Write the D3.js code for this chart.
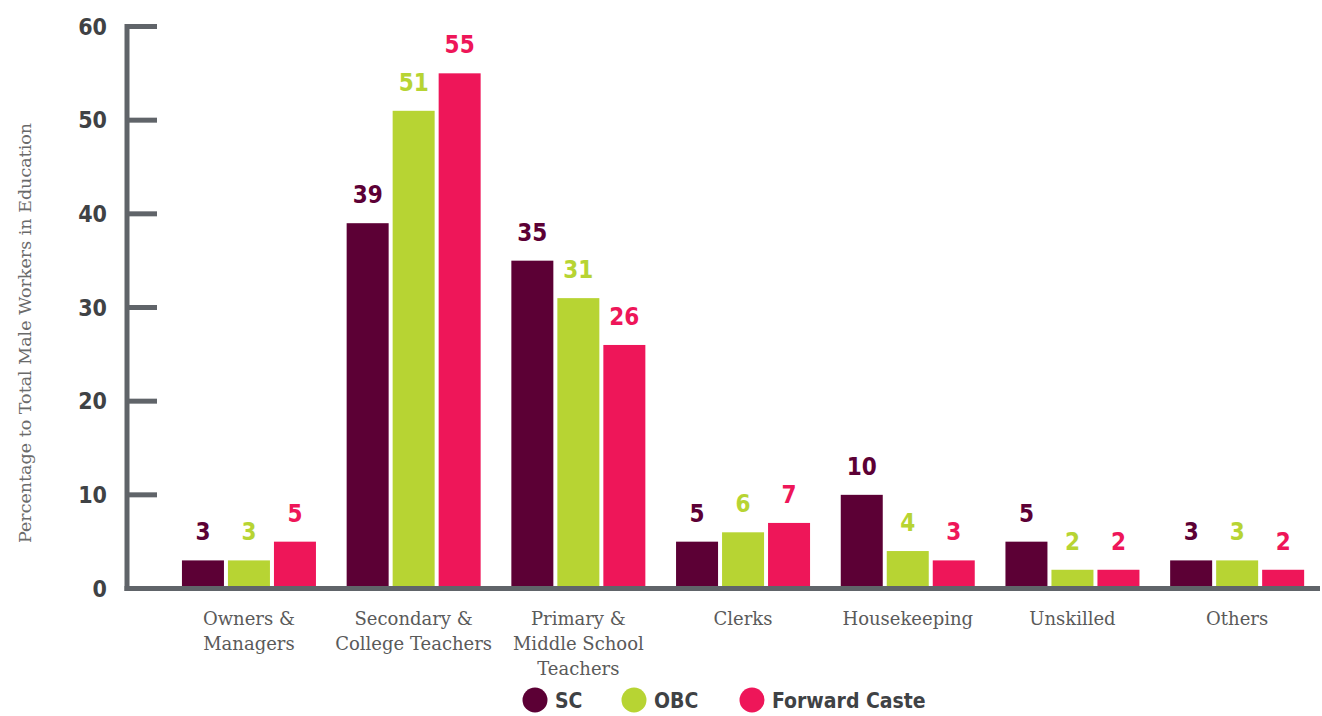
<!DOCTYPE html>
<html>
<head>
<meta charset="utf-8">
<script src="https://cdn.jsdelivr.net/npm/d3@7"></script>
<style>
  html, body { margin: 0; padding: 0; background: #ffffff; }
  svg { display: block; }
</style>
</head>
<body>
<svg id="chart" width="1322" height="716"></svg>
<script>
// Occupational distribution of male workers in education, by caste group
const categories = [
  ["Owners &", "Managers"],
  ["Secondary &", "College Teachers"],
  ["Primary &", "Middle School", "Teachers"],
  ["Clerks"],
  ["Housekeeping"],
  ["Unskilled"],
  ["Others"]
];
const seriesNames = ["SC", "OBC", "Forward Caste"];
const scValues      = [3, 39, 35, 5, 10, 5, 3];
const obcValues     = [3, 51, 31, 6, 4, 2, 3];
const forwardValues = [5, 55, 26, 7, 3, 2, 2];
const yTicks = [0, 10, 20, 30, 40, 50, 60];
const colors = ["#5c0035", "#b7d433", "#ee1659"];
const yTitle = "Percentage to Total Male Workers in Education";

const valuesBySeries = [scValues, obcValues, forwardValues];
const catKeys = categories.map(c => c.join(" "));

const svg = d3.select("#chart");
const axisColor = "#606469";
const boldFont = "'DejaVu Sans Condensed', 'DejaVu Sans', sans-serif";
const serifFont = "'DejaVu Serif', 'Liberation Serif', serif";

const y = d3.scaleLinear().domain([0, 60]).range([588.5, 26.5]);
const x0 = d3.scaleBand().domain(catKeys).range([166.6, 1319.5]).padding(0);
const x1 = d3.scaleBand().domain(seriesNames).range([-67, 67]).paddingInner(0.087);

// Bars
const groups = svg.append("g").selectAll("g")
  .data(catKeys)
  .join("g")
  .attr("transform", d => `translate(${x0(d) + x0.bandwidth() / 2},0)`);

groups.selectAll("rect")
  .data((d, i) => seriesNames.map((s, j) => ({ s, j, v: valuesBySeries[j][i] })))
  .join("rect")
  .attr("x", d => x1(d.s))
  .attr("width", x1.bandwidth())
  .attr("y", d => y(d.v))
  .attr("height", d => y(0) - y(d.v))
  .attr("fill", d => colors[d.j]);

// Value labels
groups.selectAll("text.val")
  .data((d, i) => seriesNames.map((s, j) => ({ s, j, v: valuesBySeries[j][i] })))
  .join("text")
  .attr("class", "val")
  .attr("x", d => x1(d.s) + x1.bandwidth() / 2)
  .attr("y", d => y(d.v) - 20)
  .attr("text-anchor", "middle")
  .attr("font-family", boldFont)
  .attr("font-weight", "bold")
  .attr("font-size", 24)
  .attr("fill", d => colors[d.j])
  .text(d => d.v);

// Y axis
const yAxis = svg.append("g");
yAxis.append("line")
  .attr("x1", 127).attr("x2", 127)
  .attr("y1", y(60) - 2.5).attr("y2", y(0) + 2.5)
  .attr("stroke", axisColor).attr("stroke-width", 5);
yAxis.selectAll("line.tick")
  .data(yTicks)
  .join("line")
  .attr("class", "tick")
  .attr("x1", 127).attr("x2", 157)
  .attr("y1", d => y(d)).attr("y2", d => y(d))
  .attr("stroke", axisColor).attr("stroke-width", 5);
yAxis.selectAll("text")
  .data(yTicks)
  .join("text")
  .attr("x", 107)
  .attr("y", d => y(d))
  .attr("dy", "0.36em")
  .attr("text-anchor", "end")
  .attr("font-family", boldFont)
  .attr("font-weight", "bold")
  .attr("font-size", 23)
  .attr("fill", "#3f4245")
  .text(d => d);

// X axis baseline
svg.append("line")
  .attr("x1", 124.5).attr("x2", 1320)
  .attr("y1", y(0)).attr("y2", y(0))
  .attr("stroke", axisColor).attr("stroke-width", 5);

// Category labels
const catLabels = svg.append("g").selectAll("text")
  .data(categories)
  .join("text")
  .attr("text-anchor", "middle")
  .attr("font-family", serifFont)
  .attr("font-size", 18)
  .attr("fill", "#5a5a5a");
catLabels.each(function(lines, i) {
  const cx = x0(catKeys[i]) + x0.bandwidth() / 2;
  d3.select(this).selectAll("tspan")
    .data(lines)
    .join("tspan")
    .attr("x", cx)
    .attr("y", (d, k) => 625 + k * 25)
    .text(d => d);
});

// Y axis title
svg.append("text")
  .attr("transform", "translate(31,333) rotate(-90)")
  .attr("text-anchor", "middle")
  .attr("font-family", serifFont)
  .attr("font-size", 17.5)
  .attr("fill", "#6a6a6a")
  .text(yTitle);

// Legend
const legendX = [535, 634, 752];
const legend = svg.append("g").selectAll("g")
  .data(seriesNames)
  .join("g")
  .attr("transform", (d, i) => `translate(${legendX[i]},700)`);
legend.append("circle")
  .attr("r", 12.5)
  .attr("fill", (d, i) => colors[i]);
legend.append("text")
  .attr("x", 20)
  .attr("dy", "0.36em")
  .attr("font-family", boldFont)
  .attr("font-weight", "bold")
  .attr("font-size", 21)
  .attr("fill", "#3f4245")
  .text(d => d);
</script>
</body>
</html>
